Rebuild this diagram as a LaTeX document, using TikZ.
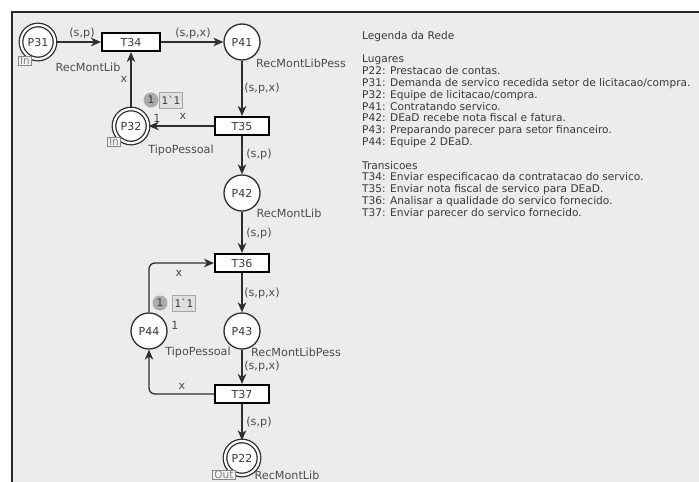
\documentclass[tikz,border=0pt]{standalone}
\usepackage{fontspec}
\setmainfont{DejaVu Sans}
\usetikzlibrary{arrows.meta}
\newlength{\du}
\setlength{\du}{1pt}
\definecolor{panelcolor}{rgb}{0.925000, 0.925000, 0.925000}
\definecolor{framecolor}{rgb}{0.160000, 0.160000, 0.160000}
\definecolor{textcolor}{rgb}{0.220000, 0.220000, 0.220000}
\definecolor{inscrcolor}{rgb}{0.300000, 0.300000, 0.300000}
\definecolor{tagcolor}{rgb}{0.520000, 0.520000, 0.520000}

\begin{document}
\begin{tikzpicture}[
  place/.style={circle,draw=dialinecolor,fill=white,line width=1.3\du,minimum size=36\du,inner sep=0pt,text=textcolor,font=\fontsize{11}{12}\selectfont},
  portplace/.style={place,double=white,double distance=2.2\du,minimum size=34\du},
  trans/.style={rectangle,draw=black,fill=white,line width=2\du,minimum width=54\du,minimum height=18\du,inner sep=0pt,text=textcolor,font=\fontsize{11}{12}\selectfont},
  arc/.style={draw=dialinecolor,line width=1.3\du,-{Stealth[length=10pt,width=8.5pt,inset=3pt]}},
  inscr/.style={inner sep=0pt,text=inscrcolor,font=\fontsize{11.2}{12}\selectfont},
  porttag/.style={rectangle,draw=tagcolor,fill=panelcolor!75!white,line width=1\du,inner xsep=2\du,inner ysep=1\du,text=tagcolor,font=\fontsize{10.5}{10.5}\selectfont},
  tokcirc/.style={circle,fill=black!33,minimum size=15\du,inner sep=0pt,text=textcolor,font=\fontsize{10.5}{11}\selectfont},
  tokbox/.style={rectangle,draw=black!35,fill=black!12,line width=0.8\du,minimum height=16\du,inner sep=2.5\du,text=textcolor,font=\fontsize{10.5}{11}\selectfont}
]
\pgftransformxscale{1.000000}
\pgftransformyscale{-1.000000}
\definecolor{dialinecolor}{rgb}{0.180000, 0.180000, 0.180000}
\useasboundingbox (0\du,0\du) rectangle (699\du,482\du);
\clip (0\du,0\du) rectangle (699\du,482\du);
% panel
\filldraw[fill=panelcolor,draw=framecolor,line width=2.4\du] (12\du,12\du) rectangle (720\du,500\du);
% places
\node[portplace] (P31) at (38\du,42\du){P31};
\node[place] (P41) at (242\du,42\du){P41};
\node[portplace] (P32) at (131\du,126\du){P32};
\node[place] (P42) at (242\du,193\du){P42};
\node[place] (P44) at (149\du,331\du){P44};
\node[place] (P43) at (242\du,331\du){P43};
\node[portplace] (P22) at (242\du,458\du){P22};
% transitions
\node[trans,minimum width=58\du] (T34) at (131\du,42\du){T34};
\node[trans] (T35) at (242\du,126\du){T35};
\node[trans] (T36) at (242\du,263\du){T36};
\node[trans] (T37) at (242\du,394\du){T37};
% port tags
\node[porttag] (P31in) at (25\du,61\du){In};
\node[porttag] (P32in) at (114\du,142\du){In};
\node[porttag] (P22out) at (224\du,475\du){Out};
% colour sets
\node[inscr] (P31set) at (88\du,67\du){RecMontLib};
\node[inscr] (P41set) at (301\du,63\du){RecMontLibPess};
\node[inscr] (P32set) at (181\du,150\du){TipoPessoal};
\node[inscr] (P42set) at (289\du,213\du){RecMontLib};
\node[inscr] (P44set) at (198\du,352\du){TipoPessoal};
\node[inscr] (P43set) at (296\du,352\du){RecMontLibPess};
\node[inscr] (P22set) at (287\du,475\du){RecMontLib};
% markings
\node[tokcirc] (P32tok) at (151\du,100\du){1};
\node[tokbox] (P32mark) at (171\du,100\du){1\textasciigrave 1};
\node[inscr] (P32init) at (157\du,118\du){1};
\node[tokcirc] (P44tok) at (160\du,303\du){1};
\node[tokbox] (P44mark) at (184\du,303\du){1\textasciigrave 1};
\node[inscr] (P44init) at (175\du,325\du){1};
% arcs
\draw[arc] (P31) -- (T34);
\draw[arc] (T34) -- (P41);
\draw[arc] (P41) -- (T35);
\draw[arc] (T35) -- (P32);
\draw[arc] (P32) -- (T34);
\draw[arc] (T35) -- (P42);
\draw[arc] (P42) -- (T36);
\draw[arc,rounded corners=6\du] (P44) |- (T36);
\draw[arc] (T36) -- (P43);
\draw[arc] (P43) -- (T37);
\draw[arc,rounded corners=6\du] (T37) -| (P44);
\draw[arc] (T37) -- (P22);
% arc inscriptions
\node[inscr] (a1) at (82\du,33\du){(s,p)};
\node[inscr] (a2) at (193\du,33\du){(s,p,x)};
\node[inscr] (a3) at (262\du,88\du){(s,p,x)};
\node[inscr] (a4) at (183\du,116\du){x};
\node[inscr] (a5) at (124\du,79\du){x};
\node[inscr] (a6) at (259\du,154\du){(s,p)};
\node[inscr] (a7) at (259\du,233\du){(s,p)};
\node[inscr] (a8) at (179\du,273\du){x};
\node[inscr] (a9) at (262\du,293\du){(s,p,x)};
\node[inscr] (a10) at (262\du,366\du){(s,p,x)};
\node[inscr] (a11) at (182\du,386\du){x};
\node[inscr] (a12) at (259\du,422\du){(s,p)};
% legend
\node[anchor=north west,inner sep=0pt,align=left,text=textcolor,font=\fontsize{10.6}{11.8}\selectfont] (legend) at (362\du,31\du){%
Legenda da Rede\\[11.8\du]
Lugares\\
P22: Prestacao de contas.\\
P31: Demanda de servico recedida setor de licitacao/compra.\\
P32: Equipe de licitacao/compra.\\
P41: Contratando servico.\\
P42: DEaD recebe nota fiscal e fatura.\\
P43: Preparando parecer para setor financeiro.\\
P44: Equipe 2 DEaD.\\[11.8\du]
Transicoes\\
T34: Enviar especificacao da contratacao do servico.\\
T35: Enviar nota fiscal de servico para DEaD.\\
T36: Analisar a qualidade do servico fornecido.\\
T37: Enviar parecer do servico fornecido.};
\end{tikzpicture}
\end{document}
